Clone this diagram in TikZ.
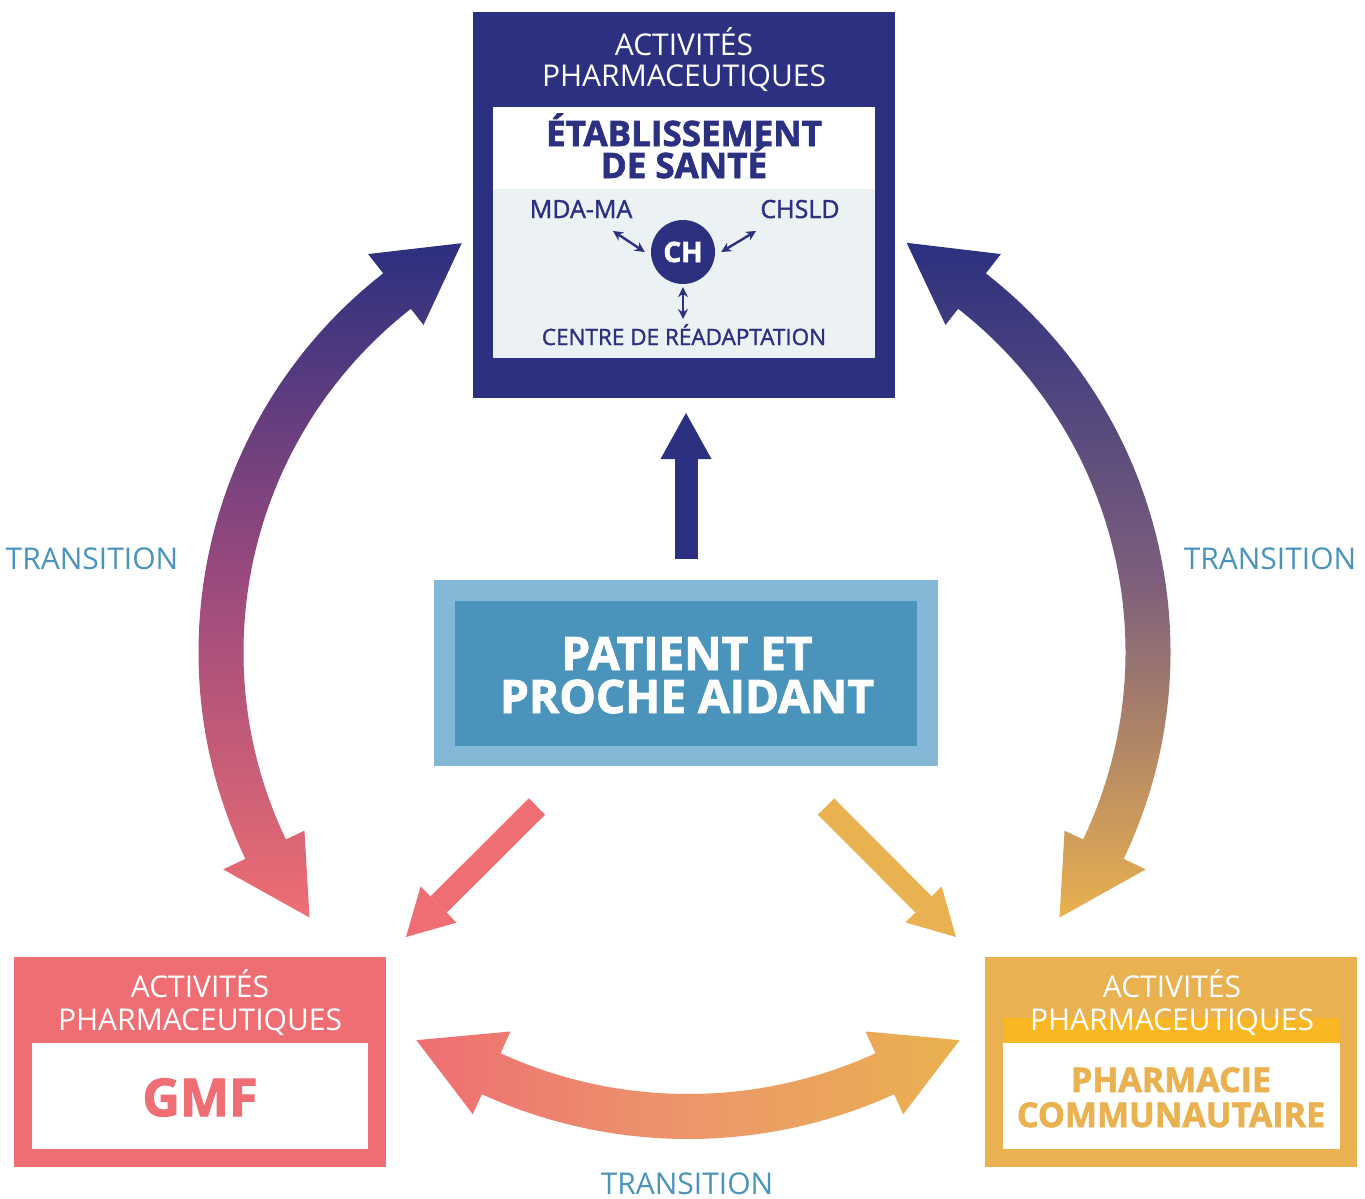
\documentclass[tikz,border=0pt]{standalone}
\usepackage{fontspec}
\setmainfont{Open Sans}
\newfontfamily\midfont{Open Sans}[FakeBold=1.4]
\newfontfamily\heavyfont{Open Sans}[BoldFeatures={FakeBold=2}]
\usetikzlibrary{arrows.meta, calc, positioning}
\definecolor{santenavy}{HTML}{2B3080}
\definecolor{panelgray}{HTML}{ECF1F4}
\definecolor{gmfpink}{HTML}{EE6E73}
\definecolor{pharmagold}{HTML}{E9B14F}
\definecolor{pharmayellow}{HTML}{F9B724}
\definecolor{patientlight}{HTML}{84B8D6}
\definecolor{patientblue}{HTML}{4A93BB}
\definecolor{leftmid}{HTML}{9B4A7D}
\definecolor{rightmid}{HTML}{7D5F7C}
\definecolor{bottommid}{HTML}{EC966A}

\begin{document}
\begin{tikzpicture}[
    x=1pt, y=-1pt,
    box/.style={
        rectangle,
        inner sep=0pt,
        outer sep=0pt
    },
    caption/.style={
        anchor=base,
        inner sep=0pt,
        text=white,
        font=\fontsize{30}{30}\selectfont
    },
    title/.style={
        anchor=base,
        inner sep=0pt,
        font=\fontsize{35}{35}\selectfont\heavyfont\bfseries
    },
    place/.style={
        anchor=base,
        inner sep=0pt,
        text=santenavy,
        font=\fontsize{25}{25}\selectfont\midfont
    },
    transition/.style={
        anchor=base,
        inner sep=0pt,
        text=patientblue,
        font=\fontsize{30}{30}\selectfont
    },
    fat/.style={
        line width=23pt,
        -{Triangle[length=46pt, width=51pt, line width=0pt]}
    },
    link/.style={
        line width=2.4pt,
        santenavy,
        {Stealth[length=10pt, width=10pt, line width=0pt]}-{Stealth[length=10pt, width=10pt, line width=0pt]}
    }
]
\useasboundingbox (0,0) rectangle (1365,1199);

% etablissement de sante
\node[box, fill=santenavy, minimum width=422pt, minimum height=386pt] (etab) at (684,205) {};
\node[box, fill=white, minimum width=382pt, minimum height=251pt] (etabcard) at (684,232.5) {};
\node[box, fill=panelgray, minimum width=382pt, minimum height=169pt] (etabnet) at (684,273.5) {};
\node[caption] (etabact) at (684,56) {ACTIVITÉS};
\node[caption] (etabpharm) at (684,86) {PHARMACEUTIQUES};
\node[title, text=santenavy] (etabname) at (684,146) {ÉTABLISSEMENT};
\node[title, text=santenavy] (etabname2) at (684,178) {DE SANTÉ};
\node[circle, fill=santenavy, minimum size=64pt, inner sep=0pt, text=white,
    font=\fontsize{28}{28}\selectfont\heavyfont\bfseries] (ch) at (683,252) {CH};
\node[place] (mda) at (581,218) {MDA-MA};
\node[place] (chsld) at (800,218) {CHSLD};
\node[place, font=\fontsize{22.5}{22.5}\selectfont\midfont] (readapt) at (684,345) {CENTRE DE RÉADAPTATION};

\coordinate (mdaend) at (613,231);
\coordinate (chsldend) at (756,231);
\coordinate (readaptend) at (683,319);
\draw[link] (mdaend) -- ([xshift=-6pt]ch.west);
\draw[link] (chsldend) -- ([xshift=6pt]ch.east);
\draw[link] (readaptend) -- ([yshift=-3pt]ch.south);

% patient
\node[box, fill=patientlight, minimum width=504pt, minimum height=186pt] (patient) at (686,673) {};
\node[box, fill=patientblue, minimum width=462pt, minimum height=145pt] (patientcore) at (686,673.5) {};
\node[title, text=white, font=\fontsize{46}{46}\selectfont\heavyfont\bfseries] (patientname) at (687,670) {PATIENT ET};
\node[title, text=white, font=\fontsize{46}{46}\selectfont\heavyfont\bfseries] (patientname2) at (687,713) {PROCHE AIDANT};

% gmf
\node[box, fill=gmfpink, minimum width=372pt, minimum height=210pt] (gmf) at (200,1062) {};
\node[box, fill=white, minimum width=336pt, minimum height=106pt] (gmfcard) at (200,1096) {};
\node[caption] (gmfact) at (200,997) {ACTIVITÉS};
\node[caption] (gmfpharm) at (200,1030) {PHARMACEUTIQUES};
\node[title, text=gmfpink, font=\fontsize{52}{52}\selectfont\heavyfont\bfseries] (gmfname) at (200,1116) {GMF};

% pharmacie communautaire
\node[box, fill=pharmagold, minimum width=372pt, minimum height=210pt] (pharma) at (1171,1062) {};
\node[box, fill=pharmayellow, minimum width=337pt, minimum height=25pt] (pharmaband) at (1171.5,1030.5) {};
\node[box, fill=white, minimum width=337pt, minimum height=106pt] (pharmacard) at (1171.5,1096) {};
\node[caption] (pharmaact) at (1172,997) {ACTIVITÉS};
\node[caption] (pharmapharm) at (1172,1030) {PHARMACEUTIQUES};
\node[title, text=pharmagold, font=\fontsize{34}{34}\selectfont\heavyfont\bfseries] (pharmaname) at (1171,1092) {PHARMACIE};
\node[title, text=pharmagold, font=\fontsize{34}{34}\selectfont\heavyfont\bfseries] (pharmaname2) at (1171,1127) {COMMUNAUTAIRE};

% patient arrows
\coordinate (upfoot) at (686,559);
\coordinate (uptip) at (686,413);
\coordinate (gmffoot) at (537,806.5);
\coordinate (gmftip) at (406,937);
\coordinate (pharmafoot) at (826,806.5);
\coordinate (pharmatip) at (956,937);
\draw[fat, santenavy] (upfoot) -- (uptip);
\draw[fat, gmfpink] (gmffoot) -- (gmftip);
\draw[fat, pharmagold] (pharmafoot) -- (pharmatip);

% transitions
\coordinate (lc) at (679,652);
\coordinate (rc) at (690,652);
\coordinate (bc) at (688,642);
\shade[top color=santenavy, bottom color=gmfpink, middle color=leftmid]
    ($(lc)+(154.5:480.5)$) arc[start angle=154.5, end angle=232, radius=480.5]
    -- ($(lc)+(232:505)$) -- ($(lc)+(242:463)$) -- ($(lc)+(232:415)$)
    -- ($(lc)+(232:435.5)$) arc[start angle=232, end angle=154.5, radius=435.5]
    -- ($(lc)+(154.5:415)$) -- ($(lc)+(144.3:455)$) -- ($(lc)+(154.5:505)$) -- cycle;
\shade[top color=santenavy, bottom color=pharmagold, middle color=rightmid]
    ($(rc)+(25.5:480.5)$) arc[start angle=25.5, end angle=-52, radius=480.5]
    -- ($(rc)+(-52:505)$) -- ($(rc)+(-62.1:463)$) -- ($(rc)+(-52:415)$)
    -- ($(rc)+(-52:435.5)$) arc[start angle=-52, end angle=25.5, radius=435.5]
    -- ($(rc)+(25.5:415)$) -- ($(rc)+(35.7:455)$) -- ($(rc)+(25.5:505)$) -- cycle;
\shade[left color=gmfpink, right color=pharmagold, middle color=bottommid]
    ($(bc)+(65.5:497)$) arc[start angle=65.5, end angle=114.5, radius=497]
    -- ($(bc)+(114.5:519)$) -- ($(bc)+(124.3:482)$) -- ($(bc)+(114.5:428)$)
    -- ($(bc)+(114.5:452)$) arc[start angle=114.5, end angle=65.5, radius=452]
    -- ($(bc)+(65.5:428)$) -- ($(bc)+(55.7:482)$) -- ($(bc)+(65.5:519)$) -- cycle;
\node[transition] (transleft) at (92,569) {TRANSITION};
\node[transition] (transright) at (1270,569) {TRANSITION};
\node[transition] (transbottom) at (687,1194) {TRANSITION};

\end{tikzpicture}
\end{document}
